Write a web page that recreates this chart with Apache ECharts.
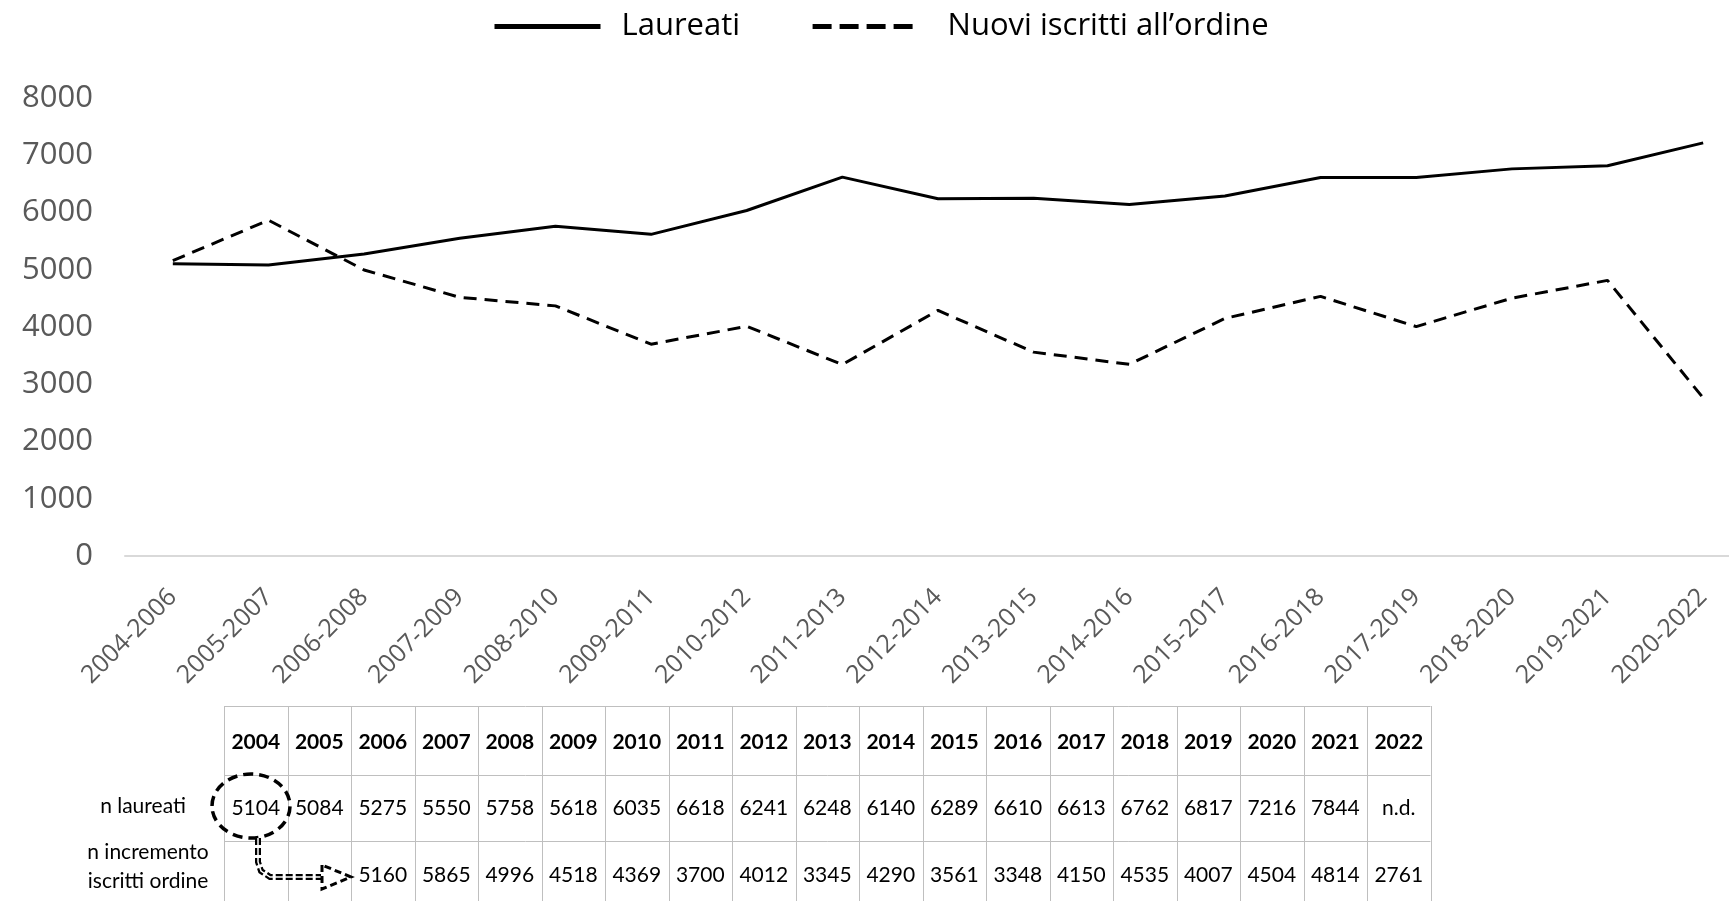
<!DOCTYPE html>
<html>
<head>
<meta charset="utf-8">
<title>Laureati e nuovi iscritti all'ordine</title>
<script src="https://cdn.jsdelivr.net/npm/echarts@6/dist/echarts.min.js"></script>
<style>
  html, body { margin: 0; padding: 0; background: #fff; overflow: hidden; }
  #chart { width: 1729px; height: 901px; }
</style>
</head>
<body>
<div id="chart"></div>
<script>
// periodi sull'asse x
const periods = ['2004-2006', '2005-2007', '2006-2008', '2007-2009', '2008-2010', '2009-2011',
  '2010-2012', '2011-2013', '2012-2014', '2013-2015', '2014-2016', '2015-2017', '2016-2018',
  '2017-2019', '2018-2020', '2019-2021', '2020-2022']
// valori delle due linee
const laureati = [5104, 5084, 5275, 5550, 5758, 5618, 6035, 6618, 6241, 6248, 6140, 6289, 6610, 6613, 6762, 6817, 7216]
const nuoviIscritti = [5160, 5865, 4996, 4518, 4369, 3700, 4012, 3345, 4290, 3561, 3348, 4150, 4535, 4007, 4504, 4814, 2761]
// tabella sotto il grafico
const tableYears = ['2004', '2005', '2006', '2007', '2008', '2009', '2010', '2011', '2012', '2013',
  '2014', '2015', '2016', '2017', '2018', '2019', '2020', '2021', '2022']
const tableLaureati = ['5104', '5084', '5275', '5550', '5758', '5618', '6035', '6618', '6241', '6248',
  '6140', '6289', '6610', '6613', '6762', '6817', '7216', '7844', 'n.d.']
const tableIncremento = ['', '', '5160', '5865', '4996', '4518', '4369', '3700', '4012', '3345',
  '4290', '3561', '3348', '4150', '4535', '4007', '4504', '4814', '2761']
const yTicks = [0, 1000, 2000, 3000, 4000, 5000, 6000, 7000, 8000]

const chart = echarts.init(document.getElementById('chart'))

// tabella disegnata con elementi grafici
const buildTable = () => {
  const x0 = 224, colW = 63.5
  const rows = [706, 775, 841, 908]
  const border = '#bfbfbf'
  const els = []
  const x1 = x0 + colW * tableYears.length
  rows.slice(0, 3).forEach(y => {
    els.push({type: 'line', shape: {x1: x0, y1: y + 0.5, x2: x1, y2: y + 0.5}, style: {stroke: border, lineWidth: 1}})
  })
  for (let i = 0; i <= tableYears.length; i++) {
    const x = Math.round(x0 + i * colW) + 0.5
    els.push({type: 'line', shape: {x1: x, y1: rows[0], x2: x, y2: 901}, style: {stroke: border, lineWidth: 1}})
  }
  const cell = (txt, i, cy, bold) => ({
    type: 'text',
    style: {
      text: txt, x: x0 + i * colW + colW / 2, y: cy,
      align: 'center', verticalAlign: 'middle', fill: '#000',
      font: (bold ? 'bold ' : '') + '21px Lato'
    }
  })
  tableYears.forEach((t, i) => els.push(cell(t, i, 742, true)))
  tableLaureati.forEach((t, i) => els.push(cell(t, i, 808, false)))
  tableIncremento.forEach((t, i) => els.push(cell(t, i, 875, false)))
  // etichette di riga
  els.push({type: 'text', style: {text: 'n laureati', x: 143, y: 806, align: 'center', verticalAlign: 'middle', fill: '#000', font: '21px Lato'}})
  els.push({type: 'text', style: {text: 'n incremento', x: 148, y: 852, align: 'center', verticalAlign: 'middle', fill: '#000', font: '21px Lato'}})
  els.push({type: 'text', style: {text: 'iscritti ordine', x: 148, y: 881, align: 'center', verticalAlign: 'middle', fill: '#000', font: '21px Lato'}})
  // cerchio tratteggiato e freccia
  els.push({type: 'ellipse', shape: {cx: 251, cy: 806, rx: 39, ry: 32}, style: {fill: 'none', stroke: '#000', lineWidth: 3.5, lineDash: [10, 6]}})
  els.push({
    type: 'polyline',
    shape: {points: [[258, 838], [258, 862], [261, 871], [270, 877], [321, 877]]},
    style: {fill: 'none', stroke: '#000', lineWidth: 6, lineDash: [7, 3]}
  })
  els.push({
    type: 'polyline',
    shape: {points: [[258, 838], [258, 862], [261, 871], [270, 877], [321, 877]]},
    style: {fill: 'none', stroke: '#fff', lineWidth: 1.5}
  })
  els.push({
    type: 'polygon',
    shape: {points: [[322, 865], [322, 889], [351, 877]]},
    style: {fill: '#fff', stroke: '#000', lineWidth: 3, lineDash: [7, 4]}
  })
  return els
}

const option = {
  animation: false,
  textStyle: {fontFamily: 'Open Sans'},
  legend: {
    left: 487,
    top: 6,
    itemWidth: 106,
    itemHeight: 20,
    itemGap: 70,
    textStyle: {fontSize: 31, color: '#000', fontFamily: 'Open Sans', padding: [0, 0, 0, 16]},
    data: [
      {name: 'Laureati', itemStyle: {opacity: 0}, lineStyle: {width: 5, type: 'solid', color: '#000'}},
      {
        name: 'Nuovi iscritti all’ordine',
        itemStyle: {opacity: 0},
        lineStyle: {width: 5, type: [19, 8], color: '#000'},
        textStyle: {padding: [0, 0, 0, 24]}
      }
    ]
  },
  grid: {
    left: 125,
    right: -22,
    top: 98,
    bottom: 345,
    containLabel: false,
    outerBoundsMode: 'none'
  },
  xAxis: {
    type: 'category',
    data: periods,
    boundaryGap: true,
    axisLine: {lineStyle: {color: '#d9d9d9', width: 2}},
    axisTick: {show: false},
    axisLabel: {
      rotate: 45,
      margin: 37,
      interval: 0,
      fontSize: 25,
      color: '#595959',
      fontFamily: 'Open Sans'
    }
  },
  yAxis: {
    type: 'value',
    min: yTicks[0],
    max: yTicks[yTicks.length - 1],
    interval: 1000,
    axisLine: {show: false},
    axisTick: {show: false},
    splitLine: {show: false},
    axisLabel: {
      margin: 32,
      fontSize: 31,
      color: '#595959',
      fontFamily: 'Open Sans',
      padding: [8, 0, 0, 0],
      formatter: v => String(v)
    }
  },
  series: [
    {
      name: 'Laureati',
      type: 'line',
      data: laureati,
      symbol: 'none',
      itemStyle: {color: '#000'},
      lineStyle: {color: '#000', width: 3}
    },
    {
      name: 'Nuovi iscritti all’ordine',
      type: 'line',
      data: nuoviIscritti,
      symbol: 'none',
      itemStyle: {color: '#000'},
      lineStyle: {color: '#000', width: 3, type: [13, 8]}
    }
  ],
  graphic: buildTable()
}

chart.setOption(option)
</script>
</body>
</html>
